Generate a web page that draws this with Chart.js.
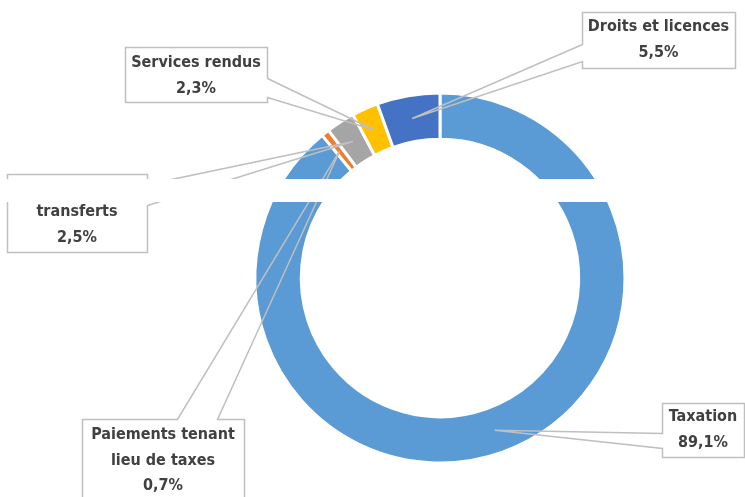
<!DOCTYPE html>
<html>
<head>
<meta charset="utf-8">
<script src="https://cdn.jsdelivr.net/npm/chart.js@4.4.1/dist/chart.umd.min.js"></script>
<style>
	html, body { margin: 0; padding: 0; background: #fff; }
</style>
</head>
<body>
<canvas id="mycanvas" width="745" height="497"></canvas>
<script>
	var labels = ['Taxation', 'Paiements tenant\nlieu de taxes', 'transferts', 'Services rendus', 'Droits et licences'];
	var values = [89.1, 0.7, 2.5, 2.3, 5.5];

	var colors = ['#5B9BD5', '#ED7D31', '#A5A5A5', '#FFC000', '#4472C4'];

	// callout boxes, same order as the data; a/b = where the pointer leaves the box edge
	var boxes = [
		{ x: 662, y: 403, w: 82, h: 54, side: 'left', a: 433, b: 448, ty: 417 },
		{ x: 82, y: 419, w: 162, h: 95, side: 'top', a: 177, b: 217, ty: 435 },
		{ x: 7, y: 174, w: 140, h: 78, side: 'right', a: 184, b: 205, ty: 212 },
		{ x: 125, y: 47, w: 142, h: 55, side: 'right', a: 78, b: 97, ty: 63 },
		{ x: 582, y: 12, w: 153, h: 56, side: 'left', a: 44, b: 61, ty: 27 }
	];

	function calloutPath(ctx, bx, tip) {
		var x = bx.x + 0.5, y = bx.y + 0.5, r = bx.x + bx.w + 0.5, btm = bx.y + bx.h + 0.5;
		ctx.beginPath();
		ctx.moveTo(x, y);
		if (bx.side == 'top') {
			ctx.lineTo(bx.a + 0.5, y);
			ctx.lineTo(tip.x, tip.y);
			ctx.lineTo(bx.b + 0.5, y);
		}
		ctx.lineTo(r, y);
		if (bx.side == 'right') {
			ctx.lineTo(r, bx.a + 0.5);
			ctx.lineTo(tip.x, tip.y);
			ctx.lineTo(r, bx.b + 0.5);
		}
		ctx.lineTo(r, btm);
		ctx.lineTo(x, btm);
		if (bx.side == 'left') {
			ctx.lineTo(x, bx.b + 0.5);
			ctx.lineTo(tip.x, tip.y);
			ctx.lineTo(x, bx.a + 0.5);
		}
		ctx.closePath();
	}

	var callouts = {
		id: 'callouts',
		afterDraw: function(chart) {
			var ctx = chart.ctx;
			var meta = chart.getDatasetMeta(0);
			ctx.save();
			for (var i = 0; i < meta.data.length; i++) {
				var bx = boxes[i];
				var tip = meta.data[i].getCenterPoint();
				ctx.fillStyle = '#fff';
				ctx.fillRect(bx.x, bx.y, bx.w, bx.h);
				calloutPath(ctx, bx, tip);
				ctx.strokeStyle = '#BFBFBF';
				ctx.lineWidth = 1.5;
				ctx.stroke();

				var lines = labels[i].split('\n');
				lines.push(values[i].toFixed(1).replace('.', ',') + '%');
				ctx.fillStyle = '#404040';
				ctx.font = 'bold 16px "Liberation Sans Narrow", "DejaVu Sans Condensed", sans-serif';
				ctx.textAlign = 'center';
				ctx.textBaseline = 'middle';
				for (var j = 0; j < lines.length; j++) {
					ctx.fillText(lines[j], bx.x + bx.w / 2, bx.ty + j * 25.5);
				}
			}
			// white strip that cuts across the original picture
			ctx.fillStyle = '#fff';
			ctx.fillRect(0, 179, 745, 23);
			ctx.restore();
		}
	};

	var chartdata = {
		labels: labels,
		datasets: [
			{
				data: values,
				backgroundColor: colors,
				borderColor: '#fff',
				borderWidth: 3,
				radius: 185,
				hoverOffset: 0
			}
		]
	};

	var ctx = document.getElementById('mycanvas');

	var DonutGraph = new Chart(ctx, {
		type: 'doughnut',
		data: chartdata,
		options: {
			responsive: false,
			animation: false,
			devicePixelRatio: 1,
			cutout: '75%',
			layout: { padding: { left: 255, right: 120, top: 93, bottom: 34 } },
			plugins: {
				legend: { display: false },
				tooltip: { enabled: false }
			}
		},
		plugins: [callouts]
	});
</script>
</body>
</html>
